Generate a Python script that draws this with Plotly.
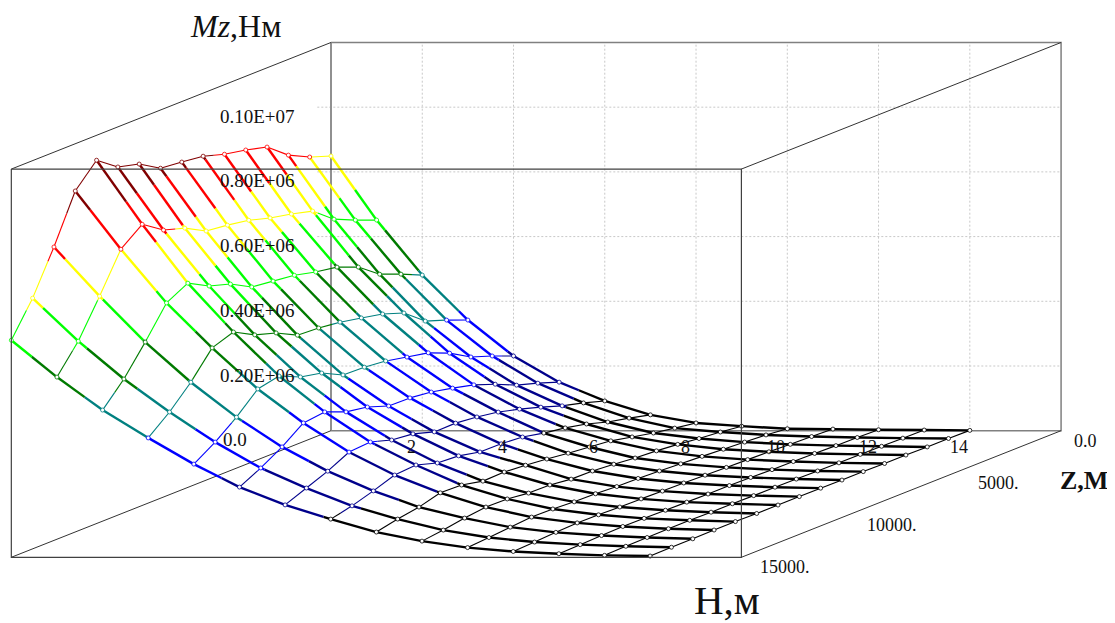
import plotly.graph_objects as go

# Grid coordinates
H_VALUES = [0, 1, 2, 3, 4, 5, 6, 7, 8, 9, 10, 11, 12, 13, 14]
Z_VALUES = [15000, 14000, 13000, 12000, 11000, 10000, 9000, 8000, 7000, 6000, 5000, 4000, 3000, 2000, 1000, 0]

# Mz in thousands of N*m, one list per H, ordered as Z_VALUES
M_H0 = [671, 775, 907, 1054, 1123, 1076, 1059, 1020, 1013, 1005, 985, 972, 955, 904, 872, 849]
M_H1 = [557, 642, 755, 874, 925, 881, 861, 826, 818, 807, 788, 774, 757, 706, 677, 651]
M_H2 = [455, 525, 613, 708, 743, 708, 688, 653, 645, 637, 621, 610, 584, 536, 510, 481]
M_H3 = [369, 423, 489, 569, 592, 557, 537, 504, 500, 492, 479, 465, 442, 391, 368, 342]
M_H4 = [288, 330, 381, 442, 456, 427, 413, 381, 379, 372, 358, 345, 318, 280, 257, 231]
M_H5 = [217, 250, 289, 337, 345, 319, 308, 285, 284, 276, 262, 246, 222, 193, 173, 150]
M_H6 = [162, 188, 214, 247, 252, 232, 225, 205, 206, 199, 188, 171, 151, 129, 112, 92]
M_H7 = [118, 133, 153, 176, 181, 161, 157, 143, 142, 137, 123, 113, 99, 79, 65, 49]
M_H8 = [78, 92, 103, 121, 119, 105, 107, 102, 95, 87, 80, 73, 59, 45, 34, 24]
M_H9 = [50, 58, 69, 77, 76, 68, 67, 59, 58, 53, 46, 42, 36, 28, 22, 14]
M_H10 = [30, 35, 41, 46, 45, 41, 40, 36, 35, 32, 28, 25, 21, 17, 13, 6]
M_H11 = [18, 21, 25, 28, 27, 25, 24, 22, 21, 19, 17, 15, 13, 10, 8, 5]
M_H12 = [11, 13, 15, 17, 16, 15, 14, 13, 13, 12, 10, 9, 8, 6, 5, 3]
M_H13 = [6, 8, 9, 10, 10, 9, 9, 8, 8, 7, 6, 5, 5, 4, 3, 2]
M_H14 = [4, 5, 5, 6, 6, 5, 5, 5, 5, 4, 4, 3, 3, 2, 2, 1]
SURFACE = [M_H0, M_H1, M_H2, M_H3, M_H4, M_H5, M_H6, M_H7, M_H8, M_H9, M_H10, M_H11, M_H12, M_H13, M_H14]

# Colour bands (level boundaries in thousands)
LEVELS = [125, 245, 370, 495, 620, 745, 870, 995]
BAND_COLORS = ["#000000", "#00008B", "#0000FF", "#008080", "#007A00", "#00FF00", "#FFFF00", "#FF0000", "#800000"]

# Tick labels
M_TICKS = [200, 400, 600, 800, 1000]
M_LABELS = ["0.20E+06", "0.40E+06", "0.60E+06", "0.80E+06", "0.10E+07"]
H_TICKS = [2, 4, 6, 8, 10, 12, 14]
Z_TICKS = [5000, 10000, 15000]
Z_LABELS = ["5000.", "10000.", "15000."]

# Axis limits and oblique-projection parameters
H_MAX, Z_MAX, M_MAX = 16, 15000, 1200
SHIFT_H, SHIFT_M = 7.006, 391.3
W, H = 1107, 615          # the page body adds an 8 px margin round the figure
PX_H, PX_M = 45.63, 1 / 3.091
X0, Y0 = 323.0, 422.7


def proj(h, z, m):
    t = z / Z_MAX
    return h - SHIFT_H * t, m - SHIFT_M * t


def band(v):
    i = 0
    while i < len(LEVELS) and v >= LEVELS[i]:
        i += 1
    return i


def add_segment(store, a, b):
    """Split one mesh edge (h, z, m) at the band boundaries."""
    pts = [a]
    lo, hi = sorted((a[2], b[2]))
    crossing = [l for l in LEVELS if lo < l < hi]
    if a[2] > b[2]:
        crossing.reverse()
    for l in crossing:
        t = (l - a[2]) / (b[2] - a[2])
        pts.append((a[0] + t * (b[0] - a[0]), a[1] + t * (b[1] - a[1]), l))
    pts.append(b)
    for p, q in zip(pts, pts[1:]):
        c = band((p[2] + q[2]) / 2)
        for r in (p, q):
            x, y = proj(*r)
            store[c][0].append(x)
            store[c][1].append(y)
        store[c][0].append(None)
        store[c][1].append(None)


fig = go.Figure()


def line(hs, zs, ms, color, width, dash=None):
    xs, ys = zip(*[proj(h, z, m) for h, z, m in zip(hs, zs, ms)])
    fig.add_trace(go.Scatter(x=xs, y=ys, mode="lines", hoverinfo="skip",
                             line=dict(color=color, width=width, dash=dash)))


# Back-wall dashed grid
for m in M_TICKS:
    line([-0.3, H_MAX], [0, 0], [m, m], "#C8C8C8", 1, "2px,2px")
for h in H_TICKS:
    line([h, h], [0, 0], [0, M_MAX], "#C8C8C8", 1, "2px,2px")

# Back box
line([0, 0], [0, 0], [0, M_MAX], "#909090", 2)
line([0, H_MAX, H_MAX, 0], [0, 0, 0, 0], [M_MAX, M_MAX, 0, 0], "#808080", 1.5)
# Depth edges
line([0, 0], [0, Z_MAX], [M_MAX, M_MAX], "#333333", 1)
line([H_MAX, H_MAX], [0, Z_MAX], [M_MAX, M_MAX], "#333333", 1)
line([0, 0], [0, Z_MAX], [0, 0], "#333333", 1)
line([H_MAX, H_MAX], [0, Z_MAX], [0, 0], "#333333", 1)

# Surface mesh
thick = [([], []) for _ in BAND_COLORS]
thin = [([], []) for _ in BAND_COLORS]
for j, h in enumerate(H_VALUES):
    for k, z in enumerate(Z_VALUES):
        if j + 1 < len(H_VALUES):
            add_segment(thick, (h, z, SURFACE[j][k]), (H_VALUES[j + 1], z, SURFACE[j + 1][k]))
        if k + 1 < len(Z_VALUES):
            add_segment(thin, (h, z, SURFACE[j][k]), (h, Z_VALUES[k + 1], SURFACE[j][k + 1]))
for store, width in ((thin, 1.1), (thick, 2.4)):
    for c, (xs, ys) in zip(BAND_COLORS, store):
        if xs:
            fig.add_trace(go.Scatter(x=xs, y=ys, mode="lines", hoverinfo="skip",
                                     line=dict(color=c, width=width)))

# Mesh nodes
nx, ny, nc = [], [], []
for j, h in enumerate(H_VALUES):
    for k, z in enumerate(Z_VALUES):
        x, y = proj(h, z, SURFACE[j][k])
        nx.append(x)
        ny.append(y)
        nc.append(BAND_COLORS[band(SURFACE[j][k])])
fig.add_trace(go.Scatter(x=nx, y=ny, mode="markers", hoverinfo="skip",
                         marker=dict(size=4, color="white", line=dict(color=nc, width=0.8))))

# Front box
line([0, H_MAX, H_MAX, 0, 0], [Z_MAX] * 5, [M_MAX, M_MAX, 0, 0, M_MAX], "#404040", 1.2)

FONT = "Liberation Serif"


def note(h, z, m, text, dx, dy, size=18):
    x, y = proj(h, z, m)
    fig.add_annotation(x=x, y=y, text=text, xshift=dx, yshift=-dy, showarrow=False,
                       font=dict(family=FONT, size=size, color="#111111"))


for m, lab in zip(M_TICKS, M_LABELS):
    note(0, 0, m, lab, -74, 9, 19)
note(0, 0, 0, "0.0", -96, 9, 19)
for h in H_TICKS:
    note(h, 0, 0, str(h), -11, 16)
note(H_MAX, 0, 0, "0.0", 24, 10)
for z, lab in zip(Z_TICKS, Z_LABELS):
    note(H_MAX, z, 0, lab, 44, 10)

note(0, 0, M_MAX, "<i>Mz</i>,Нм", -96, -16, 32)
note(H_MAX, 0, 0, "<b>Z,М</b>", 23, 50, 26)
note(H_MAX, Z_MAX, 0, "Н,м", -14, 43, 41)

fig.update_layout(
    width=W, height=H, showlegend=False, paper_bgcolor="white", plot_bgcolor="white",
    margin=dict(l=0, r=0, t=0, b=0),
    xaxis=dict(visible=False, range=[(0 - X0) / PX_H, (W - X0) / PX_H]),
    yaxis=dict(visible=False, range=[(Y0 - H) / PX_M, Y0 / PX_M]),
)
fig.write_html("out.html")
